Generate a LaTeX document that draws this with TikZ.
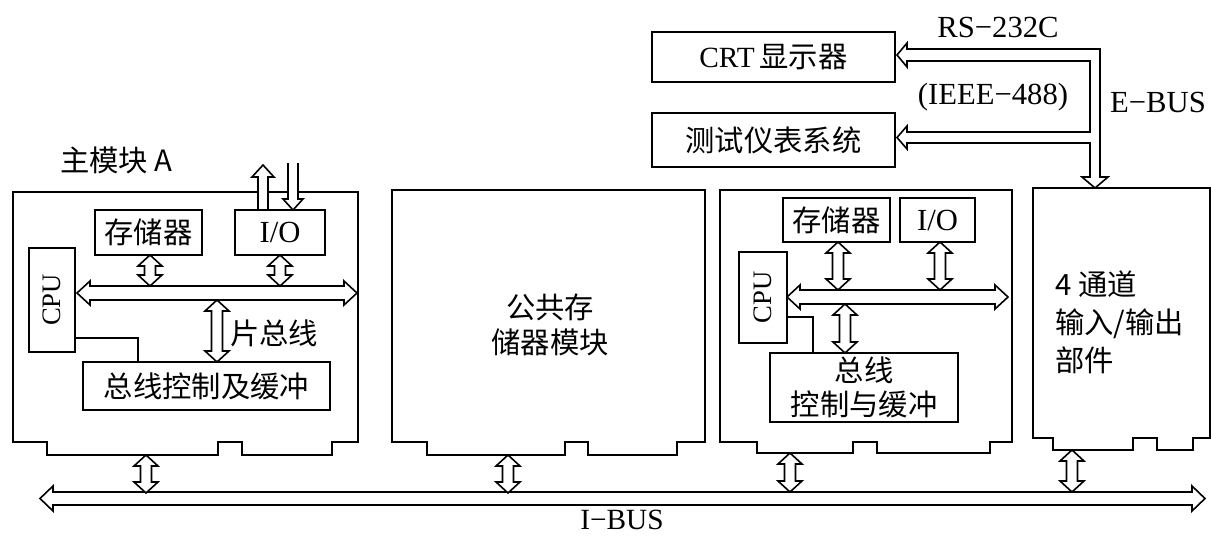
\documentclass[tikz,border=0pt]{standalone}
\usepackage{fontspec}
\setmainfont{Liberation Serif}
\newfontfamily\cjk{Noto Sans CJK SC}
\usetikzlibrary{fit}
\tikzset{
  box/.style={draw, line width=1.4pt, inner sep=0pt, fill=white},
  blk/.style={draw, fill=white, line width=1.2pt, line join=miter},
  module/.style={draw, fill=white, line width=1.4pt, line join=miter},
  cline/.style={draw, line width=0.9pt},
  lbl/.style={inner sep=0pt, font=\fontsize{23}{27}\selectfont},
  cj/.style={inner sep=0pt, align=center, font=\fontsize{22}{26}\selectfont\cjk},
  cpu/.style={rotate=90, inner sep=0pt, font=\fontsize{20}{22}\selectfont},
}
% horizontal double-headed hollow arrow: x1, x2, y, shaft half, head half
\newcommand\myH[5]{\draw[blk] (#1,#3) -- (#1+13,#3-#5) -- (#1+13,#3-#4) -- (#2-13,#3-#4) -- (#2-13,#3-#5) -- (#2,#3) -- (#2-13,#3+#5) -- (#2-13,#3+#4) -- (#1+13,#3+#4) -- (#1+13,#3+#5) -- cycle;}
% vertical double-headed hollow arrow: x, ytop, ybottom
\newcommand\myV[3]{\draw[blk] (#1,#2) -- (#1+12,#2+11) -- (#1+5.5,#2+11) -- (#1+5.5,#3-11) -- (#1+12,#3-11) -- (#1,#3) -- (#1-12,#3-11) -- (#1-5.5,#3-11) -- (#1-5.5,#2+11) -- (#1-12,#2+11) -- cycle;}
% single arrow pointing up: x, ytip, ybottom
\newcommand\myU[3]{\draw[blk] (#1,#2) -- (#1+11,#2+12) -- (#1+5,#2+12) -- (#1+5,#3) -- (#1-5,#3) -- (#1-5,#2+12) -- (#1-11,#2+12) -- cycle;}
% single arrow pointing down, open tail: x, ytail, ytip
\newcommand\myD[3]{\fill[white] (#1,#3) -- (#1+10,#3-11) -- (#1+5,#3-11) -- (#1+5,#2) -- (#1-5,#2) -- (#1-5,#3-11) -- (#1-10,#3-11) -- cycle;
 \draw[blk, fill=none] (#1+5,#2) -- (#1+5,#3-11) -- (#1+10,#3-11) -- (#1,#3) -- (#1-10,#3-11) -- (#1-5,#3-11) -- (#1-5,#2);}
\begin{document}
\begin{tikzpicture}[x=0.75pt,y=-0.75pt]
\fill[white] (0,0) rectangle (1211,536);
\useasboundingbox (0,0) rectangle (1211,536);

% ---------- modules ----------
\draw[module] (13,192) -- (358,192) -- (358,442) -- (332,442) -- (332,455) -- (242,455) -- (242,442) -- (218,442) -- (218,455) -- (47,455) -- (47,442) -- (13,442) -- cycle;
\draw[module] (392,190) -- (705,190) -- (705,442) -- (677,442) -- (677,455) -- (588,455) -- (588,442) -- (565,442) -- (565,455) -- (427,455) -- (427,442) -- (392,442) -- cycle;
\draw[module] (720,190) -- (1012,190) -- (1012,442) -- (990,442) -- (990,453) -- (877,453) -- (877,442) -- (853,442) -- (853,453) -- (757,453) -- (757,442) -- (720,442) -- cycle;
\draw[module] (1033,188) -- (1210,188) -- (1210,438) -- (1193,438) -- (1193,450) -- (1157,450) -- (1157,438) -- (1133,438) -- (1133,450) -- (1053,450) -- (1053,438) -- (1033,438) -- cycle;

% ---------- module A ----------
\node[cj, anchor=west] (titleA) at (60,160) {主模块 A};
\node[box, fit={(95,210)(202,255)}] (memA) {};
\node[cj] (memAt) at (memA.center) {存储器};
\node[box, fit={(235,210)(325,255)}] (ioA) {};
\node[lbl] (ioAt) at (ioA.center) {I/O};
\node[box, fit={(29,248)(75,352)}] (cpuA) {};
\node[cpu] (cpuAt) at (cpuA.center) {CPU};
\node[box, fit={(83,362)(330,410)}] (ctlA) {};
\node[cj] (ctlAt) at (ctlA.center) {总线控制及缓冲};
\draw[cline] (cpuA.east |- 0,338) -| (138,0 |- ctlA.north);
\myH{77}{357}{293}{7}{12}
\myV{150}{255}{286}
\myV{280}{255}{286}
\myV{217}{300}{362}
\node[cj, anchor=west] (pianA) at (230,333) {片总线};
\myU{263}{165}{210}
\myD{293}{163}{210}

% ---------- common memory ----------
\node[cj, font=\fontsize{22}{26}\selectfont\cjk] (cmem) at (550,325) {公共存\\储器模块};

% ---------- module B ----------
\node[box, fit={(783,198)(890,242)}] (memB) {};
\node[cj] (memBt) at (memB.center) {存储器};
\node[box, fit={(900,198)(975,242)}] (ioB) {};
\node[lbl] (ioBt) at (ioB.center) {I/O};
\node[box, fit={(739,252)(787,343)}] (cpuB) {};
\node[cpu] (cpuBt) at (cpuB.center) {CPU};
\node[box, fit={(770,353)(958,422)}] (ctlB) {};
\node[cj, font=\fontsize{22}{26}\selectfont\cjk] (ctlBt) at (ctlB.center) {总线\\控制与缓冲};
\draw[cline] (cpuB.east |- 0,317) -| (813,0 |- ctlB.north);
\myH{787}{1008}{297}{7}{12}
\myV{838}{242}{290}
\myV{940}{242}{290}
\myV{845}{304}{353}

% ---------- I/O unit ----------
\node[cj, anchor=west, align=left, font=\fontsize{22}{28.5}\selectfont\cjk] (io4) at (1055,322) {4 通道\\输入/输出\\部件};

% ---------- peripherals ----------
\node[box, fit={(652,32)(895,82)}] (crt) {};
\node[inner sep=0pt, font=\fontsize{22}{26}\selectfont] (crtt) at (crt.center) {CRT\,{\cjk 显示器}};
\node[box, fit={(652,113)(895,167)}] (test) {};
\node[cj] (testt) at (test.center) {测试仪表系统};
\draw[blk] (897,55) -- (907,43) -- (907,49) -- (1100,49) -- (1100,177) -- (1108,177) -- (1095,188) -- (1082,177) -- (1090,177) -- (1090,143) -- (907,143) -- (907,149) -- (897,137.5) -- (907,126) -- (907,132) -- (1090,132) -- (1090,61) -- (907,61) -- (907,67) -- cycle;
\node[lbl] (rs) at (998,27) {RS−232C};
\node[lbl] (ieee) at (993,97) {(IEEE−488)};
\node[lbl] (ebus) at (1158,102) {E−BUS};

% ---------- I-BUS ----------
\myH{40}{1205}{498.5}{6.5}{12.5}
\myV{146}{455}{493}
\myV{508}{455}{493}
\myV{790}{453}{492}
\myV{1072}{450}{492}
\node[lbl, font=\fontsize{22}{26}\selectfont] (ibus) at (622,520) {I−BUS};
\end{tikzpicture}
\end{document}
